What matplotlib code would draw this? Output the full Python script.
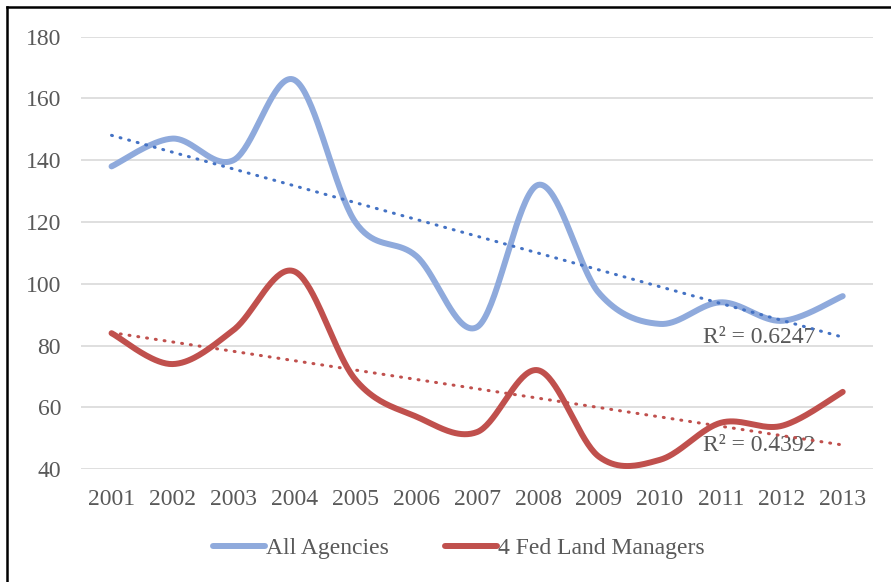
import numpy as np
import matplotlib
matplotlib.use("Agg")
import matplotlib.pyplot as plt
from matplotlib.lines import Line2D

# Data
years = ["2001", "2002", "2003", "2004", "2005", "2006", "2007",
         "2008", "2009", "2010", "2011", "2012", "2013"]
all_agencies = [138, 147, 140, 166, 120, 109, 86, 132, 97, 87, 94, 88, 96]
fed_land = [84, 74, 85, 104, 69, 57, 52, 72, 44, 43, 55, 54, 65]
r2_labels = ["R² = 0.6247", "R² = 0.4392"]

blue = "#8FAADC"
blue_trend = "#4472C4"
red = "#C0504D"
text_col = "#595959"

plt.rcParams['font.family'] = ['Liberation Serif', 'DejaVu Serif']
fs = 17


# Excel-like smoothed line (Catmull-Rom through the points)
def smooth(xs, ys, n=40):
    p = np.column_stack([xs, ys]).astype(float)
    p = np.vstack([p[0], p, p[-1]])
    out = []
    for i in range(1, len(p) - 2):
        p0, p1, p2, p3 = p[i - 1], p[i], p[i + 1], p[i + 2]
        c1 = p1 + (p2 - p0) / 6
        c2 = p2 - (p3 - p1) / 6
        t = np.linspace(0, 1, n)[:, None]
        seg = ((1 - t) ** 3) * p1 + 3 * ((1 - t) ** 2) * t * c1 + 3 * (1 - t) * t ** 2 * c2 + t ** 3 * p2
        out.append(seg)
    out = np.vstack(out)
    return out[:, 0], out[:, 1]


fig = plt.figure(figsize=(8.91, 5.82), dpi=100)
ax = fig.add_axes([0.091, 0.194, 0.889, 0.743])

x = np.arange(len(years))

for vals, col, tcol in [(all_agencies, blue, blue_trend), (fed_land, red, red)]:
    sx, sy = smooth(x, vals)
    ax.plot(sx, sy, color=col, lw=4.3, solid_capstyle='round', zorder=3)
    k, b = np.polyfit(x, vals, 1)
    ax.plot(x, k * x + b, color=tcol, lw=2.2, linestyle=(0, (0.3, 2.6)),
            dash_capstyle='round', zorder=4)

ax.set_xlim(-0.5, len(years) - 0.5)
ax.set_ylim(40, 180)
ax.set_yticks(range(40, 181, 20))
ax.set_xticks(x)
ax.set_xticklabels(years)
ax.grid(axis='y', color='#D9D9D9', lw=1.2)
ax.set_axisbelow(True)
for s in ax.spines.values():
    s.set_visible(False)
ax.tick_params(length=0, labelsize=fs, labelcolor=text_col)
ax.tick_params(axis='y', pad=14.4)
ax.tick_params(axis='x', pad=14)

# R² labels
ax.text(9.71, 80.7, r2_labels[0], fontsize=fs, color=text_col, va='baseline', zorder=2)
ax.text(9.71, 45.8, r2_labels[1], fontsize=fs, color=text_col, va='baseline', zorder=2)

# legend
handles = [Line2D([], [], color=blue, lw=4.3, solid_capstyle='round'),
           Line2D([], [], color=red, lw=4.3, solid_capstyle='round')]
fig.legend(handles, ["All Agencies", "4 Fed Land Managers"], loc='center',
           bbox_to_anchor=(0.515, 0.058), ncol=2, frameon=False, fontsize=fs,
           labelcolor=text_col, handlelength=2.2, handletextpad=0.05,
           columnspacing=2.4)

# chart border (cropped on right and bottom)
fig.add_artist(Line2D([7 / 891, 7 / 891], [0, 1 - 7 / 582], color='black', lw=1.8,
                      transform=fig.transFigure))
fig.add_artist(Line2D([7 / 891, 1], [1 - 7 / 582, 1 - 7 / 582], color='black', lw=1.8,
                      transform=fig.transFigure))

fig.savefig("out.png", dpi=100)
